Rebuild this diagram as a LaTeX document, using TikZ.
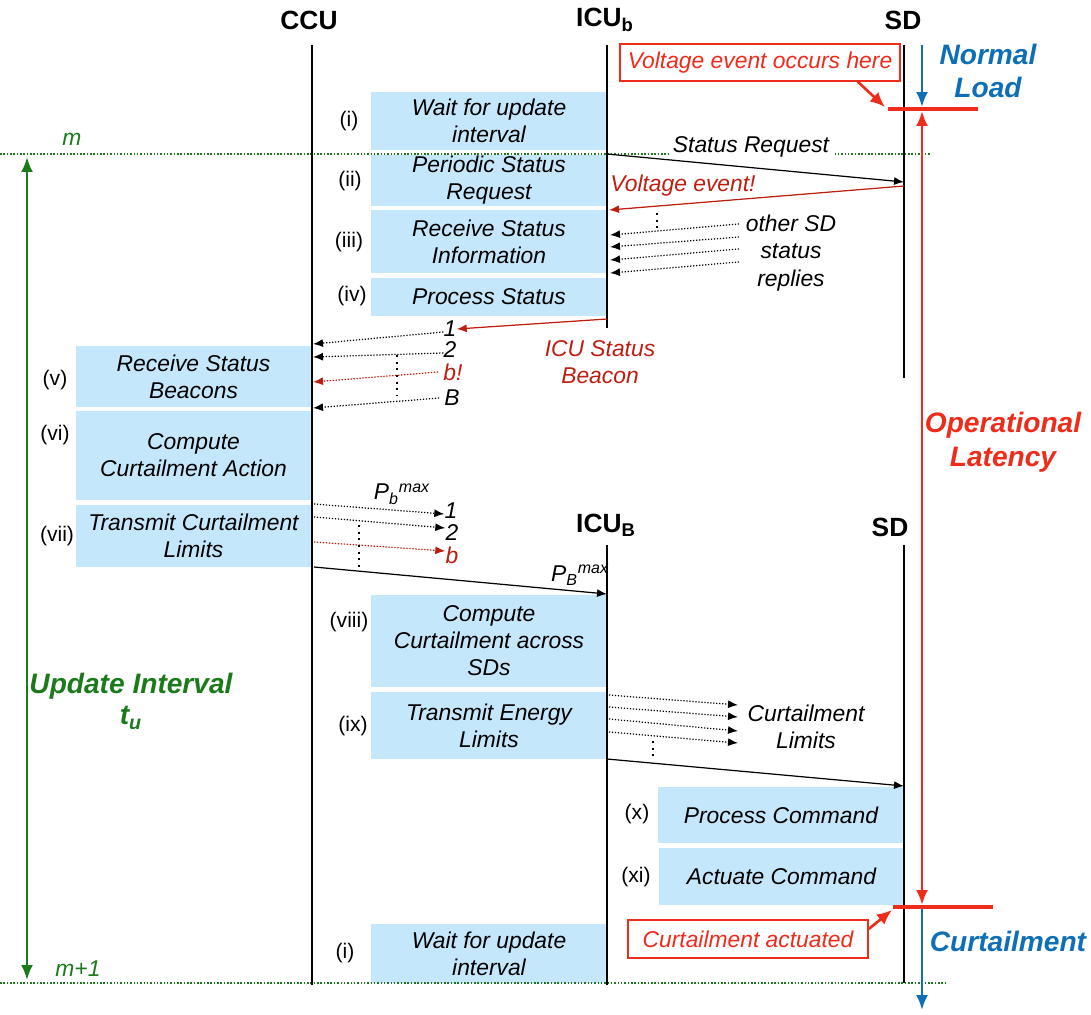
\documentclass[tikz,border=0pt]{standalone}
\usepackage{fontspec}
\setmainfont{Liberation Sans}
\usetikzlibrary{arrows.meta}
\definecolor{boxblue}{HTML}{C4E7FB}
\definecolor{msgred}{HTML}{BC1F10}
\definecolor{alertred}{HTML}{EE2C1C}
\definecolor{loadblue}{HTML}{0E6FB7}
\definecolor{ivgreen}{HTML}{1C7A1C}

\begin{document}
\begin{tikzpicture}[
  x=0.02cm, y=-0.02cm,
  font=\fontsize{13}{15.3}\selectfont,
  head/.style={font=\fontsize{15}{18}\selectfont\bfseries,inner sep=0},
  life/.style={line width=1.4pt},
  box/.style={fill=boxblue,align=center,minimum width=4.72cm,inner sep=0,
    font=\fontsize{13}{15.3}\selectfont\itshape},
  tag/.style={font=\fontsize{12}{14}\selectfont,inner sep=0},
  lbl/.style={font=\fontsize{13}{15.3}\selectfont\itshape,align=center,inner sep=0},
  big/.style={font=\fontsize{16}{19.3}\selectfont\bfseries\itshape,align=center,inner sep=0},
  msg/.style={-{Latex[length=2mm,width=1.6mm]},line width=0.7pt},
  reply/.style={msg,densely dotted},
  vdots/.style={line width=1.3pt,dash pattern=on 1.2pt off 2.6pt},
  interval/.style={draw=ivgreen,line width=0.9pt,densely dotted},
  span/.style={{Latex[length=3mm,width=2.4mm]}-{Latex[length=3mm,width=2.4mm]},line width=1.4pt},
  bluearrow/.style={-{Latex[length=3mm,width=2.4mm]},line width=1.4pt,draw=loadblue},
  callout/.style={draw=alertred,fill=white,line width=0.8pt,text=alertred,inner sep=0,
    font=\fontsize{13}{15.3}\selectfont\itshape},
  pointer/.style={-{Latex[length=3mm,width=2.6mm]},line width=1.5pt,draw=alertred},
  bar/.style={line width=2pt,draw=alertred}
]
\useasboundingbox (0,0) rectangle (1091,1014);

% entities and lifelines
\node[head] (ccu) at (309,20) {CCU};
\node[head] (icub) at (605,20) {ICU\textsubscript{b}};
\node[head] (sdtop) at (903,20) {SD};
\node[head] (icuB) at (606,525) {ICU\textsubscript{B}};
\node[head] (sdbot) at (890,527) {SD};
\coordinate (ccu-a) at (312,45);   \coordinate (ccu-z) at (312,985);
\coordinate (icub-a) at (607,45);  \coordinate (icub-z) at (607,328);
\coordinate (sd-a) at (904,45);    \coordinate (sd-z) at (904,378);
\coordinate (icuB-a) at (607,545); \coordinate (icuB-z) at (607,985);
\coordinate (sdB-a) at (904,545);  \coordinate (sdB-z) at (904,983);

% steps
\node[box,minimum height=1.16cm] (wait) at (489,121) {Wait for update\\interval};
\node[box,minimum height=1.02cm] (periodic) at (489,180.5) {Periodic Status\\Request};
\node[box,minimum height=1.26cm] (recv) at (489,241.5) {Receive Status\\Information};
\node[box,minimum height=0.76cm] (process) at (489,297) {Process Status};
\node[box,minimum height=1.22cm] (beacons) at (193.5,376.5) {Receive Status\\Beacons};
\node[box,minimum height=1.78cm] (action) at (193.5,455.5) {Compute\\Curtailment Action};
\node[box,minimum height=1.24cm] (limits) at (193.5,536) {Transmit Curtailment\\Limits};
\node[box,minimum height=1.84cm] (across) at (489,641) {Compute\\Curtailment across\\SDs};
\node[box,minimum height=1.34cm] (energy) at (489,725.5) {Transmit Energy\\Limits};
\node[box,minimum width=4.92cm,minimum height=1.12cm] (command) at (781,815) {Process Command};
\node[box,minimum width=4.9cm,minimum height=1.14cm] (actuate) at (781.5,876.5) {Actuate Command};
\node[box,minimum height=1.18cm] (waitnext) at (489,953.5) {Wait for update\\interval};

\node[tag] (t1) at (349,121) {(i)};
\node[tag] (t2) at (350,181) {(ii)};
\node[tag] (t3) at (349,242) {(iii)};
\node[tag] (t4) at (352,296) {(iv)};
\node[tag] (t5) at (55,380) {(v)};
\node[tag] (t6) at (55,435) {(vi)};
\node[tag] (t7) at (57,536) {(vii)};
\node[tag] (t8) at (349,622) {(viii)};
\node[tag] (t9) at (353,726) {(ix)};
\node[tag] (t10) at (637,814) {(x)};
\node[tag] (t11) at (636,877) {(xi)};
\node[tag] (t12) at (345,953) {(i)};

% update interval markers
\coordinate (m-a) at (0,154);   \coordinate (m-z) at (930,154);
\coordinate (m1-a) at (0,983);  \coordinate (m1-z) at (945,983);
\draw[interval] (m-a) -- (m-z);
\draw[interval] (m1-a) -- (m1-z);
\node[lbl,text=ivgreen] (mlab) at (72,139) {m};
\node[lbl,text=ivgreen] (m1lab) at (78,969) {m+1};
\coordinate (ui-a) at (27,157); \coordinate (ui-z) at (27,980);
\draw[span,draw=ivgreen,fill=ivgreen] (ui-a) -- (ui-z);
\node[big,text=ivgreen,font=\fontsize{16}{18}\selectfont\bfseries\itshape] (uilab) at (131,701)
  {Update Interval\\t\textsubscript{u}};

\draw[life] (ccu-a) -- (ccu-z);
\draw[life] (icub-a) -- (icub-z);
\draw[life] (sd-a) -- (sd-z);
\draw[life] (icuB-a) -- (icuB-z);
\draw[life] (sdB-a) -- (sdB-z);

% status request and replies
\node[lbl,fill=white,inner sep=2pt] (srlab) at (751,147) {Status Request};
\coordinate (sr-a) at (607,154); \coordinate (sr-b) at (904,182);
\draw[msg] (sr-a) -- (sr-b);
\node[lbl,text=msgred] (velab) at (683,186) {Voltage event!};
\coordinate (ve-a) at (904,186); \coordinate (ve-b) at (609,210);
\draw[msg,draw=msgred,fill=msgred] (ve-a) -- (ve-b);
\node[lbl] (others) at (791,253) {other SD\\[0.4pt]status\\[0.4pt]replies};
\foreach \i/\ya/\yb in {1/224/235,2/237/247,3/249/260,4/262/273}{
  \coordinate (rp\i-a) at (739,\ya);
  \coordinate (rp\i-b) at (610,\yb);
  \draw[reply] (rp\i-a) -- (rp\i-b);
}
\coordinate (d1-a) at (657,213); \coordinate (d1-b) at (657,229);
\draw[vdots] (d1-a) -- (d1-b);

% ICU status beacons to CCU
\node[lbl] (bc1) at (450,329) {1};
\node[lbl] (bc2) at (450,350) {2};
\node[lbl,text=msgred] (bcb) at (453,372) {b!};
\node[lbl] (bcB) at (452,398) {B};
\node[lbl,text=msgred] (beaconlab) at (600,362) {ICU Status\\Beacon};
\coordinate (bt-a) at (607,319);
\draw[msg,draw=msgred,fill=msgred] (bt-a) -- (bc1.east);
\coordinate (bc1-z) at (313,344); \coordinate (bc2-z) at (313,357);
\coordinate (bcb-z) at (313,382); \coordinate (bcB-z) at (313,408);
\draw[reply] ([yshift=-0.06cm]bc1.west) -- (bc1-z);
\draw[reply] ([yshift=-0.06cm]bc2.west) -- (bc2-z);
\draw[reply,draw=msgred,fill=msgred] ([xshift=-0.1cm]bcb.west) -- (bcb-z);
\draw[reply] ([xshift=-0.1cm]bcB.west) -- (bcB-z);
\coordinate (d2-a) at (397,355); \coordinate (d2-b) at (397,396);
\draw[vdots] (d2-a) -- (d2-b);

% curtailment limits to ICUs
\node[lbl] (pbmax) at (402,494) {P\textsubscript{b}\textsuperscript{max}};
\node[lbl] (pl1) at (451,511) {1};
\node[lbl] (pl2) at (452,533) {2};
\node[lbl,text=msgred] (plb) at (452,555) {b};
\coordinate (pl1-a) at (314,504); \coordinate (pl2-a) at (314,517);
\coordinate (plb-a) at (314,542);
\draw[reply] (pl1-a) -- ([yshift=-0.06cm]pl1.west);
\draw[reply] (pl2-a) -- ([yshift=0.1cm]pl2.west);
\draw[reply,draw=msgred,fill=msgred] (plb-a) -- ([yshift=0.08cm]plb.west);
\coordinate (d3-a) at (359,525); \coordinate (d3-b) at (359,567);
\draw[vdots] (d3-a) -- (d3-b);
\node[lbl] (pBmax) at (580,575) {P\textsubscript{B}\textsuperscript{max}};
\coordinate (pB-a) at (314,567); \coordinate (pB-b) at (607,594);
\draw[msg] (pB-a) -- (pB-b);

% energy limits to SDs
\node[lbl] (cllab) at (806,727) {Curtailment\\[0.4pt]Limits};
\foreach \i/\ya/\yb in {1/695/705,2/707/717,3/719/731,4/732/743}{
  \coordinate (el\i-a) at (609,\ya);
  \coordinate (el\i-b) at (738,\yb);
  \draw[reply] (el\i-a) -- (el\i-b);
}
\coordinate (d4-a) at (653,741); \coordinate (d4-b) at (653,757);
\draw[vdots] (d4-a) -- (d4-b);
\coordinate (cmd-a) at (607,759); \coordinate (cmd-b) at (904,786);
\draw[msg] (cmd-a) -- (cmd-b);

% load state and latency
\coordinate (ev-l) at (888,109); \coordinate (ev-r) at (978,109);
\coordinate (ca-l) at (893,907); \coordinate (ca-r) at (993,907);
\draw[bar] (ev-l) -- (ev-r);
\draw[bar] (ca-l) -- (ca-r);
\coordinate (nl-a) at (922,45);  \coordinate (nl-b) at (922,107);
\coordinate (cu-a) at (922,909); \coordinate (cu-b) at (922,1010);
\draw[bluearrow,fill=loadblue] (nl-a) -- (nl-b);
\draw[bluearrow,fill=loadblue] (cu-a) -- (cu-b);
\coordinate (lat-a) at (922,111); \coordinate (lat-z) at (922,905);
\draw[span,draw=alertred,fill=alertred,line width=1.5pt] (lat-a) -- (lat-z);
\node[big,text=loadblue] (normal) at (988,71) {Normal\\Load};
\node[big,text=alertred] (latency) at (1003,442) {Operational\\Latency};
\node[big,text=loadblue] (curt) at (1008,941) {Curtailment};

\node[callout,minimum width=5.6cm,minimum height=0.74cm] (vev) at (760,62.5)
  {Voltage event occurs here};
\coordinate (vev-p) at (885,107);
\draw[pointer,fill=alertred] ([xshift=-0.86cm]vev.south east) -- (vev-p);
\node[callout,minimum width=4.8cm,minimum height=0.76cm] (cact) at (748,939)
  {Curtailment actuated};
\coordinate (cact-p) at (892,910);
\draw[pointer,fill=alertred] ([yshift=0.2cm]cact.east) -- (cact-p);
\end{tikzpicture}
\end{document}
